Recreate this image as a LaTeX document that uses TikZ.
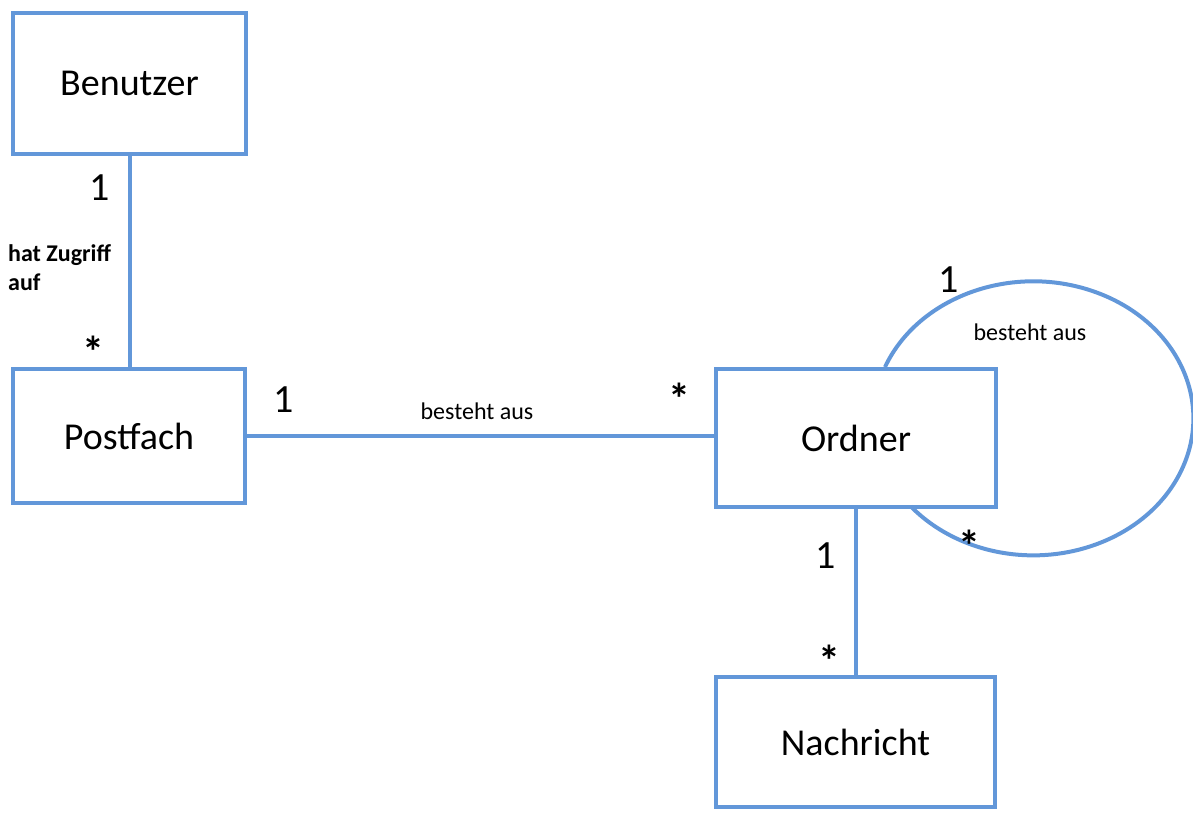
\documentclass[tikz,border=0pt]{standalone}
\usepackage{fontspec}
\setmainfont{Carlito}
\usepackage{xcolor}
\usetikzlibrary{positioning}
\definecolor{umlblue}{RGB}{98,151,217}

\begin{document}
\begin{tikzpicture}[x=1pt, y=-1pt, every node/.style={font=\fontsize{24}{29}\selectfont}, box/.style={draw=umlblue,line width=4pt,align=center,inner sep=0pt,font=\fontsize{38}{44}\selectfont}, assoc/.style={draw=umlblue,line width=4pt}, mult/.style={anchor=base,inner sep=0pt,font=\fontsize{40}{44}\selectfont}, many/.style={mult,font=\fontsize{44}{48}\selectfont\bfseries}, rel/.style={align=left,inner sep=0pt}]
\useasboundingbox (0,0) rectangle (1193,812);
\node[box,minimum width=233pt,minimum height=141pt] (benutzer) at (129.5,83.5) {Benutzer};
\node[box,minimum width=232pt,minimum height=134pt] (postfach) at (129,436) {Postfach};
\node[box,minimum width=280pt,minimum height=138pt] (ordner) at (856,438) {Ordner};
\node[box,minimum width=279pt,minimum height=130pt] (nachricht) at (855.5,742) {Nachricht};
\draw[assoc] (benutzer.south) -- (benutzer.south |- postfach.north);
\draw[assoc] (postfach.east) -- (postfach.east -| ordner.west);
\draw[assoc] (ordner.south) -- (ordner.south |- nachricht.north);
\draw[assoc] ([xshift=29pt]ordner.north) arc[start angle=158, end angle=-140, x radius=160pt, y radius=137pt];
% Multiplizitaeten
\node[mult] (m1) at (100,200) {1};
\node[many] (m2) at (93,367) {*};
\node[mult] (m3) at (284,412) {1};
\node[many] (m4) at (679,414) {*};
\node[mult] (m5) at (949,292) {1};
\node[many] (m6) at (969,561) {*};
\node[mult] (m7) at (826,568) {1};
\node[many] (m8) at (829,676) {*};
% Beziehungen
\node[rel,anchor=west,font=\fontsize{24}{29}\selectfont\bfseries] (r1) at (8,268) {hat Zugriff\\auf};
\node[rel] (r2) at (477,411) {besteht aus};
\node[rel] (r3) at (1030,332) {besteht aus};
\end{tikzpicture}
\end{document}
